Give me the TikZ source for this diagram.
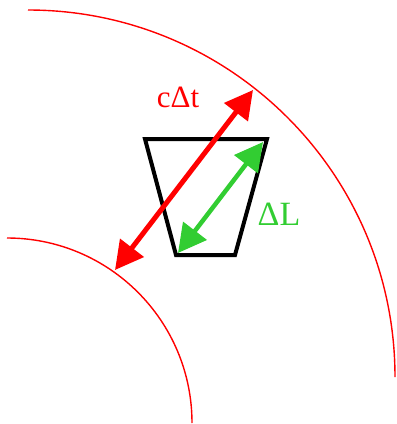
\documentclass[tikz,border=0pt]{standalone}
\usepackage{fontspec}
\setmainfont{Liberation Serif}
\usetikzlibrary{arrows.meta}
\definecolor{lightgreen}{RGB}{50,205,50}

\tikzset{
  front/.style={red, line width=1.4pt},
  bigtip/.style={{Triangle[length=28pt,width=29pt]}-{Triangle[length=28pt,width=29pt]}},
}

\begin{document}
\begin{tikzpicture}[x=1pt,y=-1pt]
        \useasboundingbox (0,0) rectangle (397,424);
        % wave fronts
        \draw[front] (28,10) arc[start angle=-90, end angle=0, radius=367];
        \draw[front] (7,238) arc[start angle=-90, end angle=0, radius=185];
        % detector
        \draw[line width=4pt, line join=miter] (145,139) -- (267,139) -- (235,255) -- (176,255) -- cycle;
        \coordinate (ctlow) at (115,270);
        \coordinate (cthigh) at (253,90);
        \coordinate (dllow) at (178,253);
        \coordinate (dlhigh) at (263,142);
        \draw[red, line width=5pt, bigtip] (ctlow) -- (cthigh);
        \draw[lightgreen, line width=4.5pt, bigtip] (dllow) -- (dlhigh);
        \node[red, anchor=base, inner sep=0pt, font=\fontsize{31}{31}\selectfont] (ctlabel) at (178,107) {cΔt};
        \node[lightgreen, anchor=base, inner sep=0pt, font=\fontsize{34}{34}\selectfont] (dllabel) at (279,225) {ΔL};
    \end{tikzpicture}
\end{document}
